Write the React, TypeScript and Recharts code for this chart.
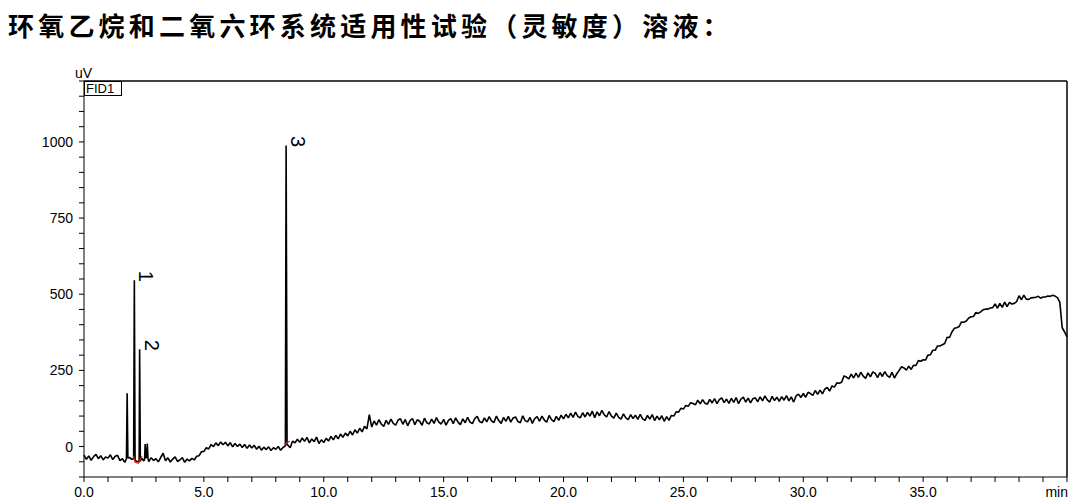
import { LineChart, Line, XAxis, YAxis, ReferenceLine, ReferenceDot } from "recharts";

// detector signal, one value every 0.1 min from 0.0 to 41.0 (uV)
const STEP = 0.1;
const trace = [
  -28, -42, -31, -45, -33, -26, -40, -30, -44, -34,
  -38, -27, -43, -32, -29, -46, -40, -52, 175, -36,
  -42, 546, -48, -52, -38, -47, -35, -49, -37, -46,
  -40, -50, -36, -22, -47, -37, -51, -41, -34, -49,
  -44, -36, -52, -41, -47, -39, -44, -32, -30, -17,
  -16, -4, -8, 6, 0, 12, 3, 15, 6, 14,
  2, 13, -1, 10, 0, 8, -3, 7, -6, 5,
  -5, 4, -9, 1, -12, -2, -10, -1, -13, -4,
  -9, 0, -12, -3, 2, 5, -4, 18, 12, 24,
  14, 28, 17, 30, 12, 25, 16, 31, 10, 22,
  13, 27, 18, 33, 22, 37, 25, 41, 30, 44,
  35, 50, 38, 55, 44, 60, 48, 66, 58, 105,
  64, 84, 70, 88, 74, 66, 86, 73, 90, 76,
  70, 87, 91, 73, 89, 68, 85, 92, 72, 88,
  83, 70, 93, 78, 74, 90, 76, 95, 80, 74,
  89, 70, 86, 92, 75, 94, 80, 72, 91, 78,
  96, 80, 75, 92, 99, 82, 78, 94, 81, 98,
  84, 79, 100, 85, 76, 96, 83, 99, 80, 94,
  97, 82, 78, 101, 85, 81, 96, 76, 92, 98,
  83, 100, 87, 80, 102, 88, 82, 99, 86, 103,
  91, 106, 94, 110, 96, 113, 99, 94, 111, 97,
  112, 100, 116, 95, 114, 101, 119, 104, 97, 115,
  100, 93, 110, 96, 90, 107, 94, 88, 105, 92,
  103, 89, 106, 91, 86, 102, 90, 105, 85, 100,
  88, 101, 83, 98, 86, 102, 100, 114, 113, 126,
  123, 135, 132, 144, 141, 137, 152, 140, 154, 142,
  139, 155, 143, 157, 141, 154, 160, 144, 156, 142,
  158, 145, 161, 141, 156, 162, 146, 159, 143, 157,
  160, 147, 163, 150, 166, 153, 146, 165, 151, 162,
  148, 164, 152, 167, 150, 163, 146, 166, 172, 161,
  174, 162, 178, 174, 168, 184, 171, 185, 173, 189,
  194, 182, 199, 195, 209, 208, 211, 232, 228, 222,
  238, 225, 241, 227, 244, 231, 224, 242, 229, 245,
  240, 226, 243, 230, 246, 233, 227, 244, 225, 239,
  250, 262, 258, 251, 264, 253, 267, 266, 282, 280,
  285, 284, 300, 301, 316, 316, 330, 330, 334, 338,
  359, 358, 376, 388, 390, 394, 409, 408, 412, 422,
  426, 427, 440, 437, 442, 449, 451, 451, 455, 456,
  468, 454, 470, 457, 474, 459, 473, 468, 470, 476,
  495, 482, 497, 484, 483, 488, 489, 490, 493, 487,
  491, 491, 494, 493, 497, 494, 489, 474, 390, 376,
  360,
];

// extra points around the narrow peaks
const peakTimes = [1.77, 1.83, 2.07, 2.13, 2.29, 2.32, 2.35, 2.53, 2.55, 2.58, 2.62, 2.64, 2.67, 8.43, 8.47];
const peakValues = [-40, -38, -40, -46, -50, 319, -48, -40, 8, -38, -36, 10, -40, 988, 6];

// red integration baselines
const baseA_t = [2.06, 2.13, 2.26, 2.42];
const baseA_v = [-30, -52, -55, -32];
const baseB_t = [8.36, 8.58];
const baseB_v = [6, 18];

const peakNames = ["1", "2", "3"];
const peakApexT = [2.1, 2.32, 8.43];
const peakApexV = [546, 319, 988];

const xTicks = Array.from({ length: 42 }, (_, i) => i);
const xLabels = [0, 5, 10, 15, 20, 25, 30, 35];
const yTicks = Array.from({ length: 27 }, (_, i) => -100 + i * 50);
const yLabels = [0, 250, 500, 750, 1000];

const data = [
  ...trace.map((v, i) => ({ t: Math.round(i * STEP * 10) / 10, v })),
  ...peakTimes.map((t, i) => ({ t, v: peakValues[i] })),
].sort((a, b) => a.t - b.t);

const redA = baseA_t.map((t, i) => ({ t, v: baseA_v[i] }));
const redB = baseB_t.map((t, i) => ({ t, v: baseB_v[i] }));

const FONT = "'Liberation Sans', Arial, sans-serif";

function XTick(props: any) {
  const { x, y, payload } = props;
  const v = payload.value;
  let label = "";
  if (v === 41) label = "min";
  else if (xLabels.includes(v)) label = v.toFixed(1);
  if (!label) return null;
  return (
    <text x={v === 41 ? x + 1 : x} y={y} dy="0.71em" textAnchor={v === 41 ? "end" : "middle"}
      fontSize={14} fontFamily={FONT} fill="#000">
      {label}
    </text>
  );
}

function YTick(props: any) {
  const { x, y, payload } = props;
  if (!yLabels.includes(payload.value)) return null;
  return (
    <text x={x} y={y} dy="0.355em" textAnchor="end" fontSize={14} fontFamily={FONT} fill="#000">
      {payload.value}
    </text>
  );
}

function peakLabel(name: string) {
  return (p: any) => {
    const cx = p.cx + 12;
    const cy = p.cy - 4;
    return (
      <text x={cx} y={cy} textAnchor="middle" dominantBaseline="central" fontSize={20}
        fontFamily={FONT} fill="#000" transform={`rotate(90, ${cx}, ${cy})`}>
        {name}
      </text>
    );
  };
}

export default function App() {
  return (
    <div style={{ position: "absolute", left: 0, top: 0, width: 1074, height: 504, background: "#fff" }}>
      <div
        style={{
          position: "absolute", left: 8, top: 9, fontSize: 26, fontWeight: 700, letterSpacing: 4.2,
          fontFamily: "'Noto Sans CJK SC', sans-serif", color: "#000", whiteSpace: "nowrap", lineHeight: "32px",
        }}
      >
        环氧乙烷和二氧六环系统适用性试验（灵敏度）溶液：
      </div>
      <div style={{ position: "absolute", left: 75, top: 65, fontSize: 14, fontFamily: FONT, color: "#000" }}>uV</div>
      <div
        style={{
          position: "absolute", left: 84, top: 81, width: 35, height: 13, border: "1px solid #000",
          fontSize: 13, lineHeight: "13px", fontFamily: FONT, color: "#000", paddingLeft: 1,
        }}
      >
        FID1
      </div>
      <LineChart width={1074} height={504} data={data} margin={{ top: 81, right: 7, bottom: 0, left: 0 }}>
        <XAxis
          dataKey="t" type="number" domain={[0, 41]} ticks={xTicks} interval={0} height={27}
          tickSize={5} tickMargin={5} tick={<XTick />}
          axisLine={{ stroke: "#000" }} tickLine={{ stroke: "#000" }}
        />
        <YAxis
          type="number" domain={[-100, 1200]} ticks={yTicks} interval={0} width={84}
          tickSize={5} tickMargin={6} tick={<YTick />}
          axisLine={{ stroke: "#000" }} tickLine={{ stroke: "#000" }}
        />
        <ReferenceLine y={1200} stroke="#000" strokeWidth={1.5} />
        <ReferenceLine x={41} stroke="#000" strokeWidth={1.5} />
        <Line dataKey="v" stroke="#000" strokeWidth={1.6} strokeLinejoin="bevel" dot={false} isAnimationActive={false} />
        <Line data={redA} dataKey="v" stroke="#e0201c" strokeWidth={1.2} dot={false} isAnimationActive={false} />
        <Line data={redB} dataKey="v" stroke="#e0201c" strokeWidth={1.2} dot={false} isAnimationActive={false} />
        {peakNames.map((n, i) => (
          <ReferenceDot key={n} x={peakApexT[i]} y={peakApexV[i]} r={1} shape={peakLabel(n)} />
        ))}
      </LineChart>
    </div>
  );
}
